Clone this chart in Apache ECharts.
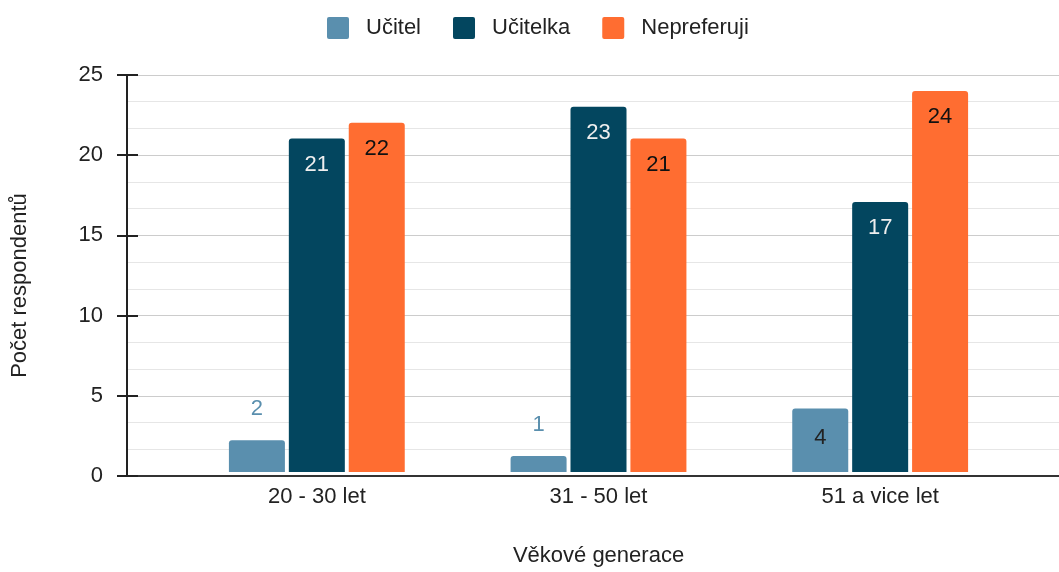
<!DOCTYPE html>
<html>
<head>
<meta charset="utf-8">
<script src="https://cdn.jsdelivr.net/npm/echarts@6/dist/echarts.min.js"></script>
<style>
  html, body { margin: 0; padding: 0; background: #fff; }
  #chart-panel { width: 1059px; height: 572px; }
</style>
</head>
<body>
<div id="chart-panel"></div>
<script>
// data
var categories = ['20 - 30 let', '31 - 50 let', '51 a vice let'];
var ucitel = [2, 1, 4];
var ucitelka = [21, 23, 17];
var nepreferuji = [22, 21, 24];
var seriesNames = ['Učitel', 'Učitelka', 'Nepreferuji'];
var colors = ['#5a8fae', '#03465f', '#ff6d31'];

var FONT = 'Liberation Sans, Arial, sans-serif';
var FS = 22;
let chartPanel = document.getElementById('chart-panel');
let myChart = echarts.init(chartPanel);

// short bars get the label on top, others inside
function ucitelData(arr) {
  return arr.map(v => {
    if (v < 3) {
      return { value: v, label: { position: 'top', distance: 20, color: colors[0] } };
    }
    return { value: v, label: { position: 'insideTop', distance: 18, color: '#222' } };
  });
}

let yBase = { type: 'value', min: 0, max: 25, interval: 5 };

myChart.setOption({
  backgroundColor: '#fff',
  textStyle: { fontFamily: FONT },
  color: colors,
  legend: {
    top: 12,
    left: 322,
    itemWidth: 22,
    itemHeight: 22,
    itemGap: 32,
    // nearly square marker, small rounding
    icon: 'path://M2,0H20Q22,0 22,2V20Q22,22 20,22H2Q0,22 0,20V2Q0,0 2,0Z',
    textStyle: { fontSize: FS, color: '#222', fontFamily: FONT, padding: [0, 0, 0, 12] },
    data: seriesNames
  },
  grid: [
    { left: 127, right: 0, top: 75, bottom: 96 },
    { left: 176, right: 38, top: 75, bottom: 96 },
    // thin grid only for the inner half of the y ticks
    { left: 127, right: 912, top: 75, bottom: 96 }
  ],
  xAxis: [
    {
      gridIndex: 0, type: 'value', min: 0, max: 1,
      axisLine: { show: true, onZero: false, lineStyle: { color: '#333', width: 2 } },
      axisTick: { show: false }, axisLabel: { show: false }, splitLine: { show: false }
    },
    {
      gridIndex: 1, type: 'category', data: categories,
      axisLine: { show: false }, axisTick: { show: false },
      axisLabel: { fontSize: FS, color: '#222', margin: 14, fontFamily: FONT },
      name: 'Věkové generace',
      nameLocation: 'middle',
      nameGap: 73,
      nameTextStyle: { fontSize: FS, color: '#222', fontFamily: FONT }
    },
    { gridIndex: 2, type: 'value', show: false }
  ],
  yAxis: [
    Object.assign({}, yBase, {
      gridIndex: 0,
      axisLine: { show: true, lineStyle: { color: '#222', width: 2 } },
      axisTick: { show: true, length: 10, lineStyle: { color: '#222', width: 2 } },
      axisLabel: { fontSize: FS, color: '#222', margin: 24, fontFamily: FONT },
      splitLine: { show: true, lineStyle: { color: '#cccccc', width: 1 } },
      minorTick: { show: false, splitNumber: 3 },
      minorSplitLine: { show: true, lineStyle: { color: '#e6e6e6', width: 1 } },
      name: 'Počet respondentů',
      nameLocation: 'middle',
      nameGap: 96,
      nameTextStyle: { fontSize: FS, color: '#222', fontFamily: FONT, padding: [0, 20, 0, 0] }
    }),
    Object.assign({}, yBase, {
      gridIndex: 1,
      show: false,
      splitLine: { show: false }
    }),
    Object.assign({}, yBase, {
      gridIndex: 2,
      axisLine: { show: false },
      axisTick: { show: true, inside: true, length: 11, lineStyle: { color: '#222', width: 2 } },
      axisLabel: { show: false },
      splitLine: { show: false }
    })
  ],
  series: [
    {
      name: seriesNames[0], type: 'bar', xAxisIndex: 1, yAxisIndex: 1,
      barWidth: 56, barGap: '7%',
      itemStyle: { borderRadius: [3, 3, 0, 0] },
      label: { show: true, fontSize: FS, fontFamily: FONT },
      data: ucitelData(ucitel)
    },
    {
      name: seriesNames[1], type: 'bar', xAxisIndex: 1, yAxisIndex: 1,
      barWidth: 56, barGap: '7%',
      itemStyle: { borderRadius: [3, 3, 0, 0] },
      label: { show: true, position: 'insideTop', distance: 15, fontSize: FS, color: '#eeeeee', fontFamily: FONT },
      data: ucitelka
    },
    {
      name: seriesNames[2], type: 'bar', xAxisIndex: 1, yAxisIndex: 1,
      barWidth: 56, barGap: '7%',
      itemStyle: { borderRadius: [3, 3, 0, 0] },
      label: { show: true, position: 'insideTop', distance: 15, fontSize: FS, color: '#111', fontFamily: FONT },
      data: nepreferuji
    }
  ]
});

window.onresize = function () {
  myChart.resize();
}
</script>
</body>
</html>
